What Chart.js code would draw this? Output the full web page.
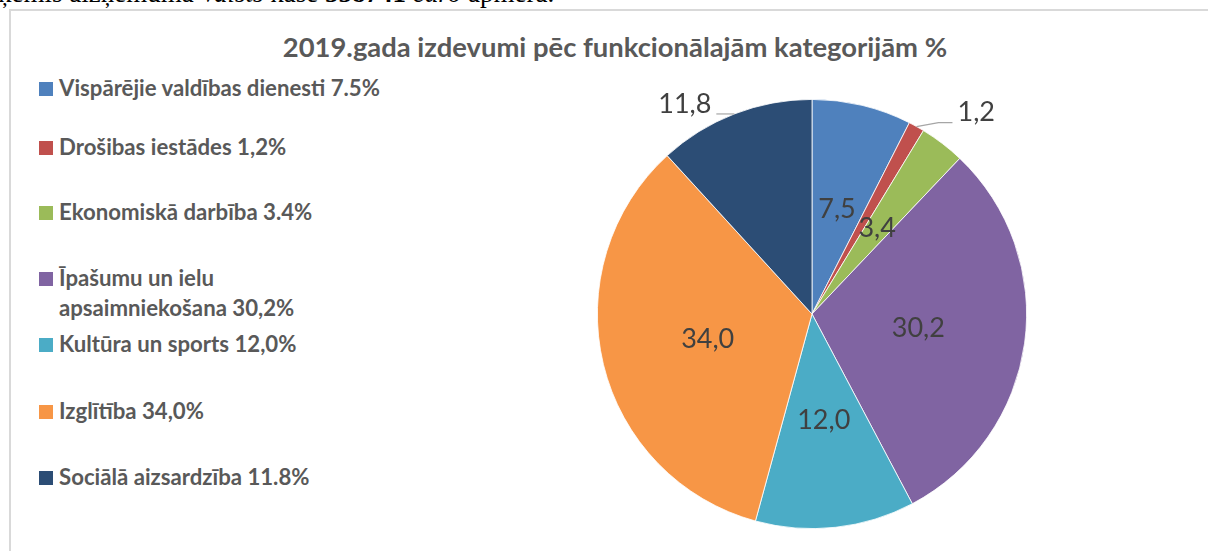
<!DOCTYPE html>
<html>
<head>
<meta charset="utf-8">
<script src="https://cdn.jsdelivr.net/npm/chart.js@4/dist/chart.umd.min.js"></script>
<style>
  html, body { margin:0; padding:0; background:#fff; }
  body { width:1208px; height:551px; position:relative; overflow:hidden; }
  #doctext { position:absolute; left:-2px; top:-20px; font-family:"Liberation Serif", serif; font-size:27px; line-height:27px; color:#000; white-space:nowrap; }
  #frame { position:absolute; left:9px; top:9px; width:1300px; height:700px; border:2px solid #d9d9d9; box-sizing:border-box; }
  #title { position:absolute; left:0; width:1230px; top:30px; text-align:center; font-family:Lato, sans-serif; font-weight:700; font-size:27.4px; color:#595959; white-space:nowrap; }
  #legend { position:absolute; left:39px; top:0; font-family:Lato, sans-serif; font-weight:700; font-size:22.2px; color:#595959; }
  .li { position:absolute; left:0; white-space:pre; line-height:30px; }
  .sw { position:absolute; left:0; width:14px; height:14px; }
  .tx { position:absolute; left:20px; white-space:pre; }
  canvas { position:absolute; left:0; top:0; }
</style>
</head>
<body>
<div id="doctext">ķēmis aizņēmumā <i>Valsts</i> kasē <b>558741</b> <i>euro</i> apmērā.</div>
<div id="frame"></div>
<div id="title"></div>
<div id="legend"></div>
<canvas id="c" width="1208" height="551"></canvas>
<script>
// ---- data ----
const chartTitle = "2019.gada izdevumi pēc funkcionālajām kategorijām %";
const categories = ["Vispārējie valdības dienesti", "Drošibas iestādes", "Ekonomiskā darbība", "Īpašumu un ielu apsaimniekošana", "Kultūra un sports", "Izglītība", "Sociālā aizsardzība"];
const values = [7.5, 1.2, 3.4, 30.2, 12.0, 34.0, 11.8];
const sliceLabels = ["7,5", "1,2", "3,4", "30,2", "12,0", "34,0", "11,8"];
const legendLabels = ["Vispārējie valdības dienesti 7.5%", "Drošibas iestādes 1,2%", "Ekonomiskā darbība 3.4%", "Īpašumu un ielu\napsaimniekošana 30,2%", "Kultūra un sports 12,0%", "Izglītība 34,0%", "Sociālā aizsardzība 11.8%"];
const colors = ["#4F81BD", "#C0504D", "#9BBB59", "#8064A2", "#4BACC6", "#F79646", "#2C4D75"];

// ---- title & legend (HTML) ----
document.getElementById('title').textContent = chartTitle;
const legendTops = [89, 148, 213, 279, 345, 412, 478]; // swatch centre rows
const leg = document.getElementById('legend');
legendLabels.forEach((t, i) => {
  const row = document.createElement('div');
  row.className = 'li';
  row.style.top = (legendTops[i] - 16) + 'px';
  const sw = document.createElement('div');
  sw.className = 'sw'; sw.style.background = colors[i]; sw.style.top = '9px';
  const tx = document.createElement('div');
  tx.className = 'tx'; tx.textContent = t; tx.style.top = '0px';
  row.appendChild(sw); row.appendChild(tx);
  leg.appendChild(row);
});

// ---- slice label plugin ----
const sliceLabelPlugin = {
  id: 'sliceLabels',
  afterDatasetsDraw(chart, args, opts) {
    const ctx = chart.ctx;
    const meta = chart.getDatasetMeta(0);
    ctx.save();
    ctx.font = opts.font;
    ctx.fillStyle = opts.color;
    meta.data.forEach((arc, i) => {
      const p = arc.getProps(['x', 'y', 'startAngle', 'endAngle', 'outerRadius'], true);
      const mid = (p.startAngle + p.endAngle) / 2;
      const text = sliceLabels[i];
      const out = opts.outside[i];
      if (!out) {
        const r = p.outerRadius * opts.insideRatio;
        ctx.textAlign = 'center';
        ctx.textBaseline = 'middle';
        ctx.fillText(text, p.x + r * Math.cos(mid), p.y + r * Math.sin(mid));
      } else {
        const ax = p.x + p.outerRadius * Math.cos(mid);
        const ay = p.y + p.outerRadius * Math.sin(mid);
        const dir = Math.cos(mid) >= 0 ? 1 : -1;
        const bx = ax + out.dx, by = ay + out.dy;
        const cx = bx + dir * out.run, cy = by;
        ctx.strokeStyle = opts.lineColor;
        ctx.lineWidth = 1.2;
        ctx.beginPath();
        ctx.moveTo(ax, ay); ctx.lineTo(bx, by); ctx.lineTo(cx, cy);
        ctx.stroke();
        ctx.textAlign = dir > 0 ? 'left' : 'right';
        ctx.textBaseline = 'middle';
        ctx.fillText(text, cx + dir * 5, cy - out.lift);
      }
    });
    ctx.restore();
  }
};

new Chart(document.getElementById('c'), {
  type: 'pie',
  data: {
    labels: categories,
    datasets: [{
      data: values,
      backgroundColor: colors,
      borderColor: '#ffffff',
      borderWidth: 0.8
    }]
  },
  options: {
    responsive: false,
    animation: false,
    events: [],
    layout: { padding: { left: 597, right: 181, top: 99, bottom: 22 } },
    plugins: {
      legend: { display: false },
      title: { display: false },
      tooltip: { enabled: false },
      sliceLabels: {
        font: '27px Lato, sans-serif',
        color: '#404040',
        lineColor: '#a6a6a6',
        insideRatio: 0.5,
        outside: { 1: { dx: 22, dy: -4, run: 14, lift: 10 }, 6: { dx: 0, dy: 0, run: 18, lift: 10 } }
      }
    }
  },
  plugins: [sliceLabelPlugin]
});
</script>
</body>
</html>
